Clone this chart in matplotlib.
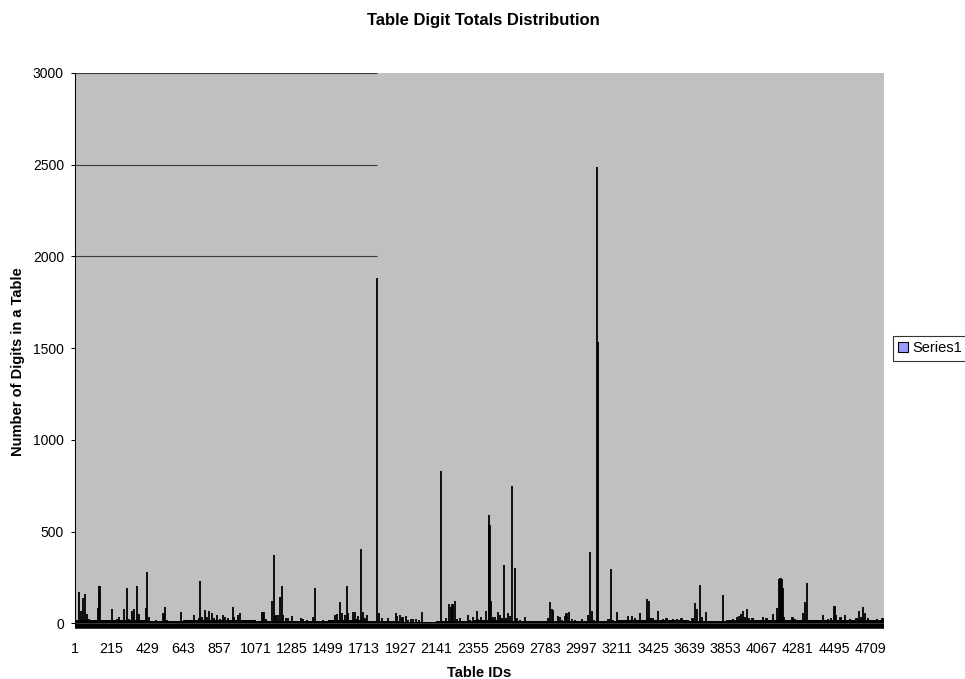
import matplotlib
matplotlib.use("Agg")
import matplotlib.pyplot as plt
from matplotlib.patches import Patch

# Number of tables on the category axis
n_tables = 4790

# Category labels shown along the x axis (every 214th table)
tick_ids = [1, 215, 429, 643, 857, 1071, 1285, 1499, 1713, 1927, 2141, 2355,
            2569, 2783, 2997, 3211, 3425, 3639, 3853, 4067, 4281, 4495, 4709]

# Typical digit count of the many small tables inside each labelled block
background_level = [18, 16, 14, 16, 16, 14, 12, 18, 14, 9, 14, 16,
                    12, 14, 14, 18, 18, 14, 16, 16, 16, 16, 16]

# Tables with a visible digit total
table_ids = [
    26, 34, 50, 62, 74, 85, 135, 143, 149, 218, 247, 259, 289, 310, 322, 336,
    350, 366, 377, 423, 429, 439, 478, 524, 535, 547, 628, 705, 736, 741, 750,
    770, 784, 796, 810, 825, 839, 859, 875, 889, 908, 938, 944, 967, 977, 1106,
    1117, 1131, 1165, 1179, 1188, 1200, 1216, 1224, 1234, 1250, 1263, 1283,
    1339, 1352, 1372, 1411, 1422, 1471, 1540, 1550, 1570, 1583, 1599, 1609,
    1619, 1648, 1658, 1668, 1678, 1692, 1704, 1717, 1727, 1787, 1802, 1816,
    1852, 1899, 1909, 1925, 1940, 1960, 1974, 1988, 2003, 2019, 2035, 2053,
    2168, 2195, 2215, 2227, 2236, 2250, 2264, 2280, 2325, 2339, 2355, 2379,
    2388, 2404, 2418, 2434, 2450, 2455, 2464, 2477, 2487, 2503, 2516, 2526,
    2542, 2550, 2562, 2576, 2590, 2606, 2615, 2635, 2665, 2803, 2813, 2823,
    2832, 2858, 2872, 2885, 2902, 2911, 2925, 2941, 2961, 3000, 3040, 3050,
    3060, 3075, 3093, 3098, 3154, 3168, 3174, 3188, 3208, 3277, 3296, 3316,
    3346, 3389, 3397, 3409, 3424, 3454, 3484, 3503, 3543, 3566, 3592, 3657,
    3671, 3681, 3703, 3711, 3737, 3839, 3898, 3918, 3932, 3942, 3958, 3967,
    3979, 3993, 4007, 4016, 4076, 4095, 4131, 4159, 4171, 4178, 4186, 4192,
    4200, 4249, 4263, 4309, 4323, 4333, 4427, 4460, 4476, 4497, 4506, 4533,
    4560, 4589, 4628, 4641, 4652, 4666, 4678, 4697, 4747, 4782,
]
digit_totals = [
    169, 67, 136, 158, 51, 23, 82, 205, 205, 76, 23, 36, 76, 194, 21, 69,
    76, 203, 51, 82, 278, 33, 16, 51, 87, 16, 62, 43, 27, 230, 33,
    72, 36, 66, 54, 27, 45, 21, 45, 36, 27, 89, 33, 45, 54, 62,
    58, 21, 122, 372, 40, 45, 145, 201, 45, 27, 31, 40,
    30, 21, 16, 33, 192, 16, 45, 49, 116, 58, 45, 201,
    54, 62, 62, 23, 40, 403, 62, 27, 45, 1880, 54, 31,
    31, 54, 40, 45, 27, 40, 16, 23, 25, 25, 16, 62,
    830, 29, 103, 91, 98, 123, 23, 27, 45, 16, 33, 66,
    21, 33, 16, 66, 590, 530, 122, 33, 33, 62, 45, 21,
    318, 27, 54, 40, 748, 300, 21, 16, 36, 27, 118, 76,
    72, 40, 33, 16, 40, 51, 62, 21, 16, 21, 45, 390,
    66, 16, 2490, 1536, 23, 23, 296, 16, 64, 42, 40, 27,
    54, 133, 122, 27, 31, 67, 25, 24, 24, 25, 22, 25,
    113, 76, 207, 36, 62, 153, 22, 36, 42, 49, 69, 33,
    80, 27, 31, 27, 36, 25, 49, 82, 240, 240, 240, 190,
    36, 31, 25, 54, 118, 218, 44, 22, 27, 87, 45, 27,
    47, 22, 25, 67, 36, 87, 54, 27, 22, 22,
]

plt.rcParams['font.family'] = ['Liberation Sans', 'DejaVu Sans']

W, H = 965, 679
fig = plt.figure(figsize=(W / 100, H / 100), dpi=100)
ax = fig.add_axes([75 / W, 1 - 623.3 / H, 809 / W, 550.3 / H])
ax.set_facecolor('#C0C0C0')
ax.set_xlim(0.5, n_tables + 0.5)
ax.set_ylim(0, 3000)

# dense floor of small tables, one step per labelled block
edges = tick_ids + [n_tables + 1]
block_left = [t - 0.5 for t in tick_ids]
block_width = [edges[i + 1] - edges[i] for i in range(len(tick_ids))]
ax.bar(block_left, background_level, width=block_width, align='edge',
       color='black', linewidth=0, zorder=2)

# individual tables
ax.bar(table_ids, digit_totals, width=1, color='black', edgecolor='black',
       linewidth=1.3, zorder=3)

# gridlines only show up to the first very tall table
grid_end = next(i for i, v in zip(table_ids, digit_totals) if v > 1000)
ax.hlines([2000, 2500, 3000], 0.5, grid_end, colors='#3a3a3a',
          linewidth=0.8, zorder=1)

for side in ('top', 'right'):
    ax.spines[side].set_visible(False)
ax.spines['left'].set_color('black')
ax.spines['left'].set_linewidth(0.75)
ax.spines['left'].set_zorder(4)
ax.spines['bottom'].set_color('black')
ax.spines['bottom'].set_linewidth(4.0)
ax.spines['bottom'].set_capstyle('butt')
ax.spines['bottom'].set_position(('outward', 1.8))

ax.set_yticks(range(0, 3001, 500))
ax.tick_params(axis='y', length=3, width=0.75, direction='out', pad=5,
               labelsize=10, colors='black')
ax.set_xticks(tick_ids)
ax.set_xticklabels([str(t) for t in tick_ids])
ax.tick_params(axis='x', length=0, pad=12, labelsize=10.3)

fig.text(483 / W, 1 - 20 / H, 'Table Digit Totals Distribution',
         ha='center', va='center', fontsize=12, fontweight='bold')
fig.text(479 / W, 1 - 673 / H, 'Table IDs', ha='center', va='center',
         fontsize=10.5, fontweight='bold')
fig.text(18 / W, 1 - 362 / H, 'Number of Digits in a Table', ha='center',
         va='center', rotation=90, fontsize=10.5, fontweight='bold')

handle = Patch(facecolor='#9999FF', edgecolor='black', linewidth=0.8,
               label='Series1')
leg = fig.legend(handles=[handle], loc='center left',
                 bbox_to_anchor=(893 / W, 1 - 348.5 / H),
                 bbox_transform=fig.transFigure, frameon=True, fancybox=False,
                 edgecolor='black', borderpad=0.35, handlelength=0.7,
                 handleheight=0.7, handletextpad=0.25, fontsize=10.5,
                 borderaxespad=0)
leg.get_frame().set_linewidth(0.8)

fig.savefig('out.png', dpi=100)
